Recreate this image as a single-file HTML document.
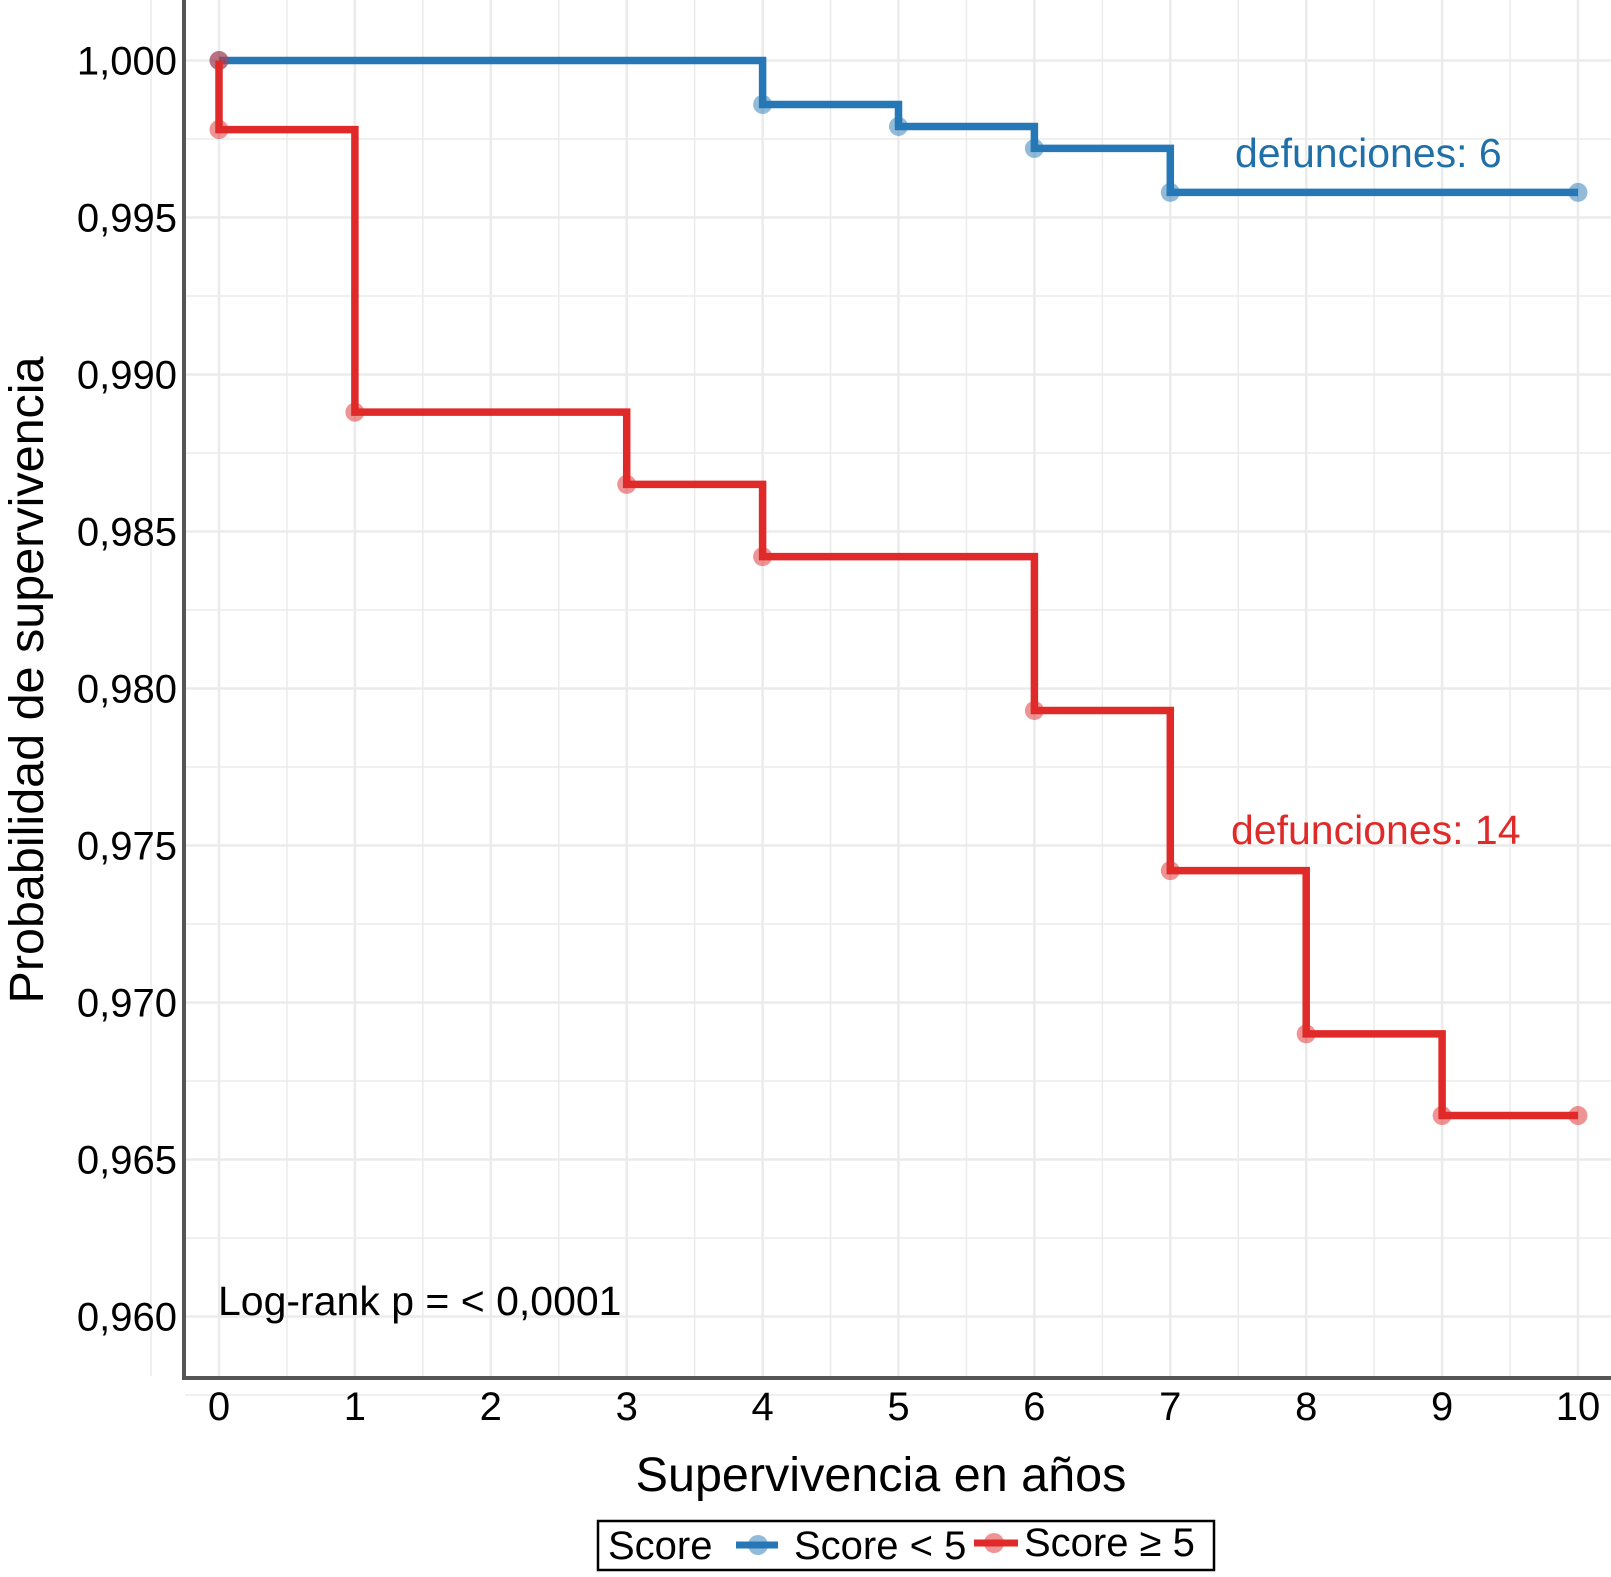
<!DOCTYPE html>
<html><head><meta charset="utf-8"><style>body{margin:0;background:#fff}svg text{font-family:"Liberation Sans",Arial,sans-serif}</style></head>
<body>
<svg id="chart" width="1611" height="1572" xmlns="http://www.w3.org/2000/svg">
<g id="grid"></g>
<g id="axes"></g>
<g id="series"></g>
<text x="1235" y="167" font-size="41" fill="#1f6fa8">defunciones: 6</text>
<text x="1231" y="844" font-size="41" fill="#e02a2a">defunciones: 14</text>
<text x="218" y="1315" font-size="41" fill="#000">Log-rank p = &lt; 0,0001</text>
<text x="881" y="1491" font-size="48.5" text-anchor="middle">Supervivencia en años</text>
<text transform="translate(43,680) rotate(-90)" font-size="48.5" text-anchor="middle">Probabilidad de supervivencia</text>
<g>
<rect x="598" y="1521" width="616" height="49" fill="#fff" stroke="#000" stroke-width="2.5"/>
<text x="608" y="1559" font-size="40">Score</text>
<line x1="736" y1="1545" x2="778" y2="1545" stroke="#2677b5" stroke-width="7"/>
<circle cx="758" cy="1545" r="10" fill="#2677b5" fill-opacity="0.5"/>
<text x="794" y="1559" font-size="40">Score &lt; 5</text>
<line x1="974" y1="1543" x2="1018" y2="1543" stroke="#e02a2a" stroke-width="7"/>
<circle cx="994" cy="1543" r="10" fill="#e02a2a" fill-opacity="0.5"/>
<text x="1024" y="1556" font-size="40">Score ≥ 5</text>
</g>
</svg>
<script>
const xTicks=[0,1,2,3,4,5,6,7,8,9,10];
const yTicks=[0.960,0.965,0.970,0.975,0.980,0.985,0.990,0.995,1.000];
const yTickLabels=["0,960","0,965","0,970","0,975","0,980","0,985","0,990","0,995","1,000"];
const blueTimes=[0,4,5,6,7,10];
const blueSurv=[1.000,0.9986,0.9979,0.9972,0.9958,0.9958];
const redTimes=[0,0,1,3,4,6,7,8,9,10];
const redSurv=[1.000,0.9978,0.9888,0.9865,0.9842,0.9793,0.9742,0.9690,0.9664,0.9664];
const NS="http://www.w3.org/2000/svg";
const X=t=>219+t*135.9;
const Y=v=>60.5+(1-v)/0.005*157;
function mk(tag,attrs,parent){const e=document.createElementNS(NS,tag);for(const k in attrs)e.setAttribute(k,attrs[k]);parent.appendChild(e);return e;}
const grid=document.getElementById('grid'),axes=document.getElementById('axes'),series=document.getElementById('series');
for(let t=-0.5;t<=10.5;t+=0.5){const g=mk('line',{x1:X(t),x2:X(t),y1:0,y2:1376,stroke:'#ebebeb','stroke-width':t%1===0?2.5:1.5},grid);}
for(let v=0.9575;v<=1.003;v+=0.0025){const g=mk('line',{x1:185,x2:1611,y1:Y(v),y2:Y(v),stroke:'#ebebeb','stroke-width':Math.abs(v*200-Math.round(v*200))<0.01?2.5:1.5},grid);}
mk('line',{x1:184,x2:184,y1:0,y2:1379,stroke:'#555','stroke-width':4},axes);
mk('line',{x1:182,x2:1611,y1:1378,y2:1378,stroke:'#555','stroke-width':4},axes);
xTicks.forEach(t=>{const e=mk('text',{x:X(t),y:1420,'font-size':40,'text-anchor':'middle'},axes);e.textContent=t;});
yTicks.forEach((v,i)=>{const e=mk('text',{x:177,y:Y(v)+14,'font-size':40,'text-anchor':'end'},axes);e.textContent=yTickLabels[i];});
function step(times,surv,color,name){let d='M'+X(times[0])+','+Y(surv[0]);for(let i=1;i<times.length;i++){d+=' H'+X(times[i])+' V'+Y(surv[i]);}
const p=mk('path',{d:d,fill:'none',stroke:color,'stroke-width':7.5,'stroke-linejoin':'miter'},series);
for(let i=0;i<times.length;i++){const c=mk('circle',{cx:X(times[i]),cy:Y(surv[i]),r:9.5,fill:color,'fill-opacity':0.5},series);}}
step(blueTimes,blueSurv,'#2677b5','score-low');
step(redTimes,redSurv,'#e02a2a','score-high');
</script>
</body></html>
